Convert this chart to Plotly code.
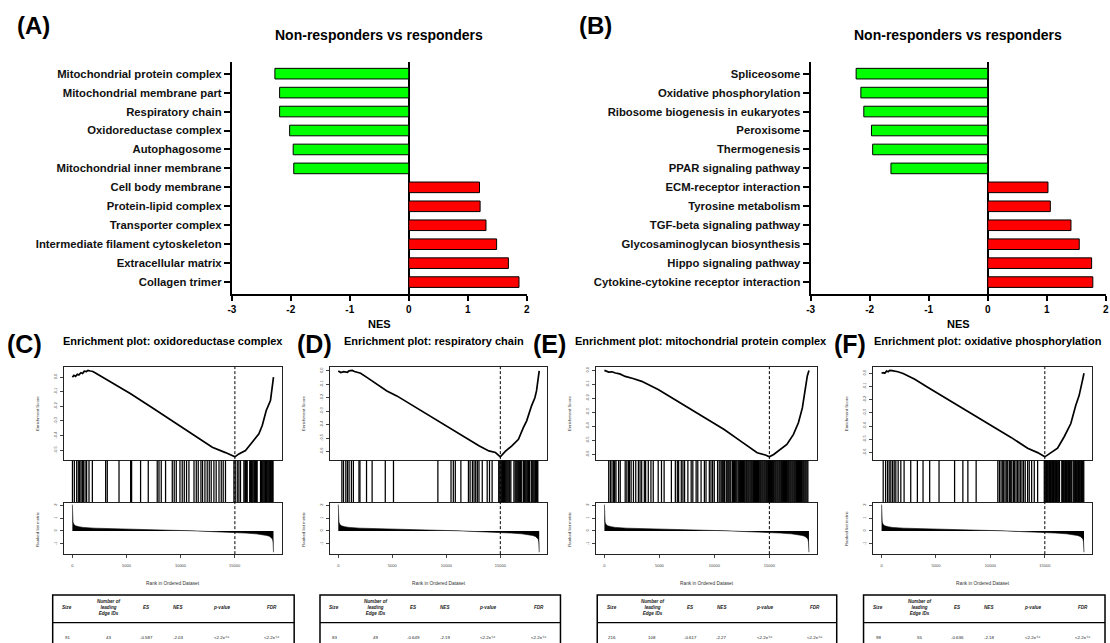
import plotly.graph_objects as go

W, H = 1110, 643
FONT = "Arial, Liberation Sans, Helvetica, sans-serif"


def fx(x):
    return x / W


def fy(y):
    return 1 - y / H


# ---------------- Panel A / B data ----------------
A_TERMS = ["Mitochondrial protein complex", "Mitochondrial membrane part", "Respiratory chain",
           "Oxidoreductase complex", "Autophagosome", "Mitochondrial inner membrane",
           "Cell body membrane", "Protein-lipid complex", "Transporter complex",
           "Intermediate filament cytoskeleton", "Extracellular matrix", "Collagen trimer"]
A_NES = [-2.27, -2.19, -2.19, -2.02, -1.96, -1.95, 1.20, 1.21, 1.31, 1.49, 1.69, 1.87]

B_TERMS = ["Spliceosome", "Oxidative phosphorylation", "Ribosome biogenesis in eukaryotes",
           "Peroxisome", "Thermogenesis", "PPAR signaling pathway", "ECM-receptor interaction",
           "Tyrosine metabolism", "TGF-beta signaling pathway", "Glycosaminoglycan biosynthesis",
           "Hippo signaling pathway", "Cytokine-cytokine receptor interaction"]
B_NES = [-2.23, -2.15, -2.10, -1.97, -1.95, -1.64, 1.02, 1.06, 1.41, 1.55, 1.76, 1.78]

NES_TICKS = [-3, -2, -1, 0, 1, 2]
NES_TICK_TEXT = ["-3", "-2", "-1", "0", "1", "2"]
BAR_TITLE = "Non-responders vs responders"

# ---------------- GSEA data ----------------
N_GENES = 18600
RANK_TICKS = [0, 5000, 10000, 15000]
RANK_TICK_TEXT = ["0", "5000", "10000", "15000"]

RANKED_X = [1, 20, 60, 150, 300, 600, 1000, 2000, 3000, 5000, 7000, 9000, 11000, 12500, 14000,
            15000, 16000, 17000, 17600, 18000, 18250, 18400, 18500, 18560, 18600]
RANKED_Y = [2.05, 1.1, 0.7, 0.5, 0.4, 0.33, 0.28, 0.22, 0.19, 0.14, 0.1, 0.06, 0.02, -0.02, -0.07,
            -0.11, -0.16, -0.22, -0.28, -0.35, -0.42, -0.5, -0.62, -0.85, -1.65]
RANKED_TICKS = [2, 1, 0, -1]
RANKED_TICK_TEXT = ["2", "1", "0", "-1"]

C_ES_RANK = [1, 150, 300, 460, 600, 800, 950, 1100, 1300, 1450, 1650, 1850, 2100, 2500, 3080, 3700,
             4315, 5390, 7390, 9240, 11090, 12940, 14160, 14600, 15030, 15400, 16010, 16630, 17250,
             17560, 17930, 18320, 18500, 18600]
C_ES = [0.0, 0.012, 0.005, 0.02, 0.015, 0.03, 0.025, 0.04, 0.038, 0.046, 0.042, 0.04, 0.03, 0.012,
        -0.016, -0.04, -0.068, -0.114, -0.21, -0.3, -0.388, -0.479, -0.516, -0.53, -0.545, -0.525,
        -0.502, -0.445, -0.388, -0.331, -0.228, -0.16, -0.06, 0.0]
C_HITS = [10, 185, 400, 550, 675, 800, 925, 1015, 1175, 1320, 1540, 1850, 3080, 3230, 4315, 5390,
          5480, 6310, 7020, 7850, 8010, 8220, 8620, 9240, 9420, 9610, 9950, 10160, 10350, 10560,
          10780, 11250, 11460, 11640, 11890, 12040, 12260, 12470, 12660, 12840, 13090, 13300, 13560,
          13770, 13950, 14160, 14940, 15060, 15250, 15400, 15550, 15860, 15960, 16010, 16090, 16170,
          16400, 16480, 16560, 16630, 16700, 16790, 16860, 16940, 17020, 17090, 17400, 17480, 17560,
          17640, 17720, 17800, 17860, 17940, 18020, 18100, 18170, 18250, 18320, 18380, 18440, 18500,
          18560]
C_ES_TICKS = [0.0, -0.1, -0.2, -0.3, -0.4, -0.5]

D_ES_RANK = [1, 240, 500, 850, 1000, 1300, 1500, 1760, 2070, 2680, 3590, 4500, 5420, 6940, 8460,
             9980, 11500, 13020, 13940, 14550, 15000, 15460, 16070, 16680, 17130, 17440, 17890,
             18200, 18350, 18500, 18600]
D_ES = [0.0, -0.012, -0.006, -0.01, 0.0, 0.004, -0.004, -0.012, -0.017, -0.05, -0.1, -0.149,
        -0.186, -0.26, -0.335, -0.41, -0.484, -0.558, -0.596, -0.608, -0.64, -0.6, -0.558, -0.509,
        -0.422, -0.372, -0.26, -0.2, -0.149, -0.074, 0.0]
D_HITS = [335, 487, 700, 852, 1004, 1217, 1400, 1917, 2008, 2617, 3134, 4351, 5112, 9220, 10437,
          10650, 10833, 11350, 12050, 12202, 12415, 12568, 12720, 12872, 13024, 13328, 13785, 13998,
          14241, 14850, 14950, 15050, 15130, 15215, 15300, 15380, 15459, 15540, 15620, 15702, 15790,
          15870, 15976, 16260, 16372, 16450, 16530, 16615, 16700, 16790, 16880, 16980, 17140, 17224,
          17300, 17380, 17467, 17540, 17620, 17711, 17870, 17954, 18030, 18110, 18198, 18270, 18350,
          18420, 18472]
D_ES_TICKS = [0.0, -0.1, -0.2, -0.3, -0.4, -0.5, -0.6]

E_ES_RANK = [1, 390, 700, 990, 1400, 1890, 2600, 3390, 4890, 6390, 7890, 9390, 10890, 12390, 13890,
             14640, 15000, 15390, 15990, 16590, 17190, 17640, 18000, 18240, 18450, 18600]
E_ES = [0.0, -0.012, -0.01, -0.019, -0.025, -0.043, -0.058, -0.078, -0.137, -0.209, -0.28, -0.351,
        -0.422, -0.505, -0.588, -0.604, -0.617, -0.6, -0.564, -0.528, -0.457, -0.374, -0.268,
        -0.149, -0.04, 0.0]
E_HITS = [390, 540, 690, 840, 930, 1050, 1290, 1440, 1890, 2040, 2190, 2280, 2430, 2640, 2850, 3090,
          3240, 3390, 3630, 3750, 3990, 4230, 4440, 4890, 5190, 5430, 6090, 6450, 6630, 6750, 6990,
          7140, 7290, 7590, 7890, 8040, 8340, 8490, 8790, 9090, 9240, 9540, 9690, 9840, 9990, 10290,
          10440, 10590, 10680, 10760, 10850, 10930, 11080, 11160, 11250, 11330, 11420, 11500, 11650,
          11730, 11820, 11900, 11980, 12070, 12210, 12300, 12380, 12470, 12550, 12640, 12720, 12800,
          12900, 12980, 13070, 13150, 13240, 13320, 13400, 13490, 13570, 13660, 13740, 13830, 13910,
          14000, 14080, 14170, 14250, 14340, 14420, 14510, 14590, 14680, 14760, 14850, 14930, 15020,
          15100, 15190, 15270, 15360, 15440, 15530, 15610, 15700, 15780, 15870, 15950, 16040, 16120,
          16210, 16290, 16380, 16460, 16550, 16630, 16720, 16800, 16890, 16970, 17060, 17140, 17230,
          17310, 17400, 17480, 17570, 17650, 17740, 17820, 17910, 17990, 18080, 18160, 18250, 18330,
          18420, 18500]
E_ES_TICKS = [0.0, -0.1, -0.2, -0.3, -0.4, -0.5, -0.6]

F_ES_RANK = [1, 150, 300, 460, 600, 760, 950, 1220, 1500, 1980, 3050, 4270, 5800, 7320, 8850, 10370,
             11900, 13420, 14340, 15000, 15560, 16170, 16780, 17390, 17840, 18150, 18450, 18600]
F_ES = [0.0, 0.005, 0.0, 0.017, 0.012, 0.022, 0.02, 0.017, 0.012, -0.002, -0.045, -0.107, -0.182,
        -0.256, -0.336, -0.41, -0.485, -0.567, -0.6, -0.632, -0.604, -0.567, -0.48, -0.38, -0.244,
        -0.169, -0.057, 0.0]
F_HITS = [150, 370, 550, 700, 850, 1010, 1160, 1310, 1525, 1770, 2070, 2680, 3290, 3810, 4420, 5280,
          6710, 7470, 7930, 8690, 10680, 10830, 10980, 11130, 11220, 11350, 11500, 11590, 11740,
          11830, 11960, 12110, 12200, 12350, 12480, 12620, 12750, 12900, 13050, 13200, 13420, 13570,
          13790, 14030, 14340, 14950, 15020, 15090, 15160, 15230, 15300, 15370, 15440, 15510, 15580,
          15650, 15720, 15790, 15860, 15930, 16000, 16070, 16140, 16210, 16280, 16350, 16560, 16630,
          16700, 16770, 16840, 16910, 16980, 17050, 17120, 17190, 17260, 17330, 17400, 17470, 17610,
          17680, 17750, 17820, 17890, 17960, 18030, 18100, 18170, 18240, 18310, 18380, 18450, 18520,
          18580]
F_ES_TICKS = [0.0, -0.1, -0.2, -0.3, -0.4, -0.5, -0.6]

GSEA_TITLES = ["Enrichment plot: oxidoreductase complex", "Enrichment plot: respiratory chain",
               "Enrichment plot: mitochondrial protein complex",
               "Enrichment plot: oxidative phosphorylation"]
PANEL_LABELS = ["(C)", "(D)", "(E)", "(F)"]

P_SMALL = "&lt;2.2e\u207b\u00b9\u2076"
TABLE_HEADER = ["Size", "Number of<br>leading<br>Edge IDs", "ES", "NES", "p-value", "FDR"]
C_TABLE = ["91", "43", "-0.587", "-2.03", P_SMALL, P_SMALL]
D_TABLE = ["83", "49", "-0.649", "-2.19", P_SMALL, P_SMALL]
E_TABLE = ["216", "108", "-0.617", "-2.27", P_SMALL, P_SMALL]
F_TABLE = ["98", "55", "-0.636", "-2.18", P_SMALL, P_SMALL]

# ---------------- build ----------------
fig = go.Figure()
layout = dict(width=W, height=H, autosize=False, margin=dict(l=0, r=0, t=0, b=0),
              paper_bgcolor="white", plot_bgcolor="white", showlegend=False,
              font=dict(family=FONT, color="black"))
annotations = []
shapes = []


def names(i):
    if i == 1:
        return "xaxis", "yaxis", "x", "y"
    return f"xaxis{i}", f"yaxis{i}", f"x{i}", f"y{i}"


def note(text, x, y, size, bold=False, angle=0, color="black", xanchor="center"):
    annotations.append(dict(text=text, x=fx(x), y=fy(y), xref="paper", yref="paper",
                            showarrow=False, xanchor=xanchor, yanchor="middle", textangle=angle,
                            font=dict(size=size, family=FONT, color=color,
                                      weight="bold" if bold else "normal")))


def bar_panel(i, terms, nes, x0, x1, title_cx, label, label_cx):
    xa, ya, xr, yr = names(i)
    colors = ["#00FF00" if v < 0 else "#FF0000" for v in nes]
    fig.add_trace(go.Bar(y=terms, x=nes, orientation="h", width=0.56,
                         marker=dict(color=colors, line=dict(color="black", width=1)),
                         xaxis=xr, yaxis=yr, hoverinfo="skip"))
    layout[xa] = dict(domain=[fx(x0), fx(x1)], range=[-3, 2], anchor=yr, tickvals=NES_TICKS,
                      ticktext=NES_TICK_TEXT, ticks="outside", ticklen=5, tickwidth=1.5,
                      tickcolor="black", showline=True, linewidth=2, linecolor="black",
                      zeroline=True, zerolinecolor="black", zerolinewidth=1.8, showgrid=False,
                      tickfont=dict(size=10, weight="bold", family=FONT, color="black"),
                      fixedrange=True)
    layout[ya] = dict(domain=[fy(293.3), fy(61)], anchor=xr, type="category",
                      categoryorder="array", categoryarray=terms, range=[11.62, -0.62],
                      ticks="outside", ticklen=6, tickwidth=1.5, tickcolor="black",
                      showline=True, linewidth=2, linecolor="black", showgrid=False,
                      zeroline=False, tickfont=dict(size=11.3, weight="bold", family=FONT,
                                                     color="#111"), fixedrange=True)
    note(BAR_TITLE, title_cx, 34, 14, bold=True)
    note("NES", (x0 + x1) / 2, 324, 11, bold=True)
    note(label, label_cx, 25, 24, bold=True)


bar_panel(1, A_TERMS, A_NES, 229.3, 526.0, 377, "(A)", 30)
bar_panel(2, B_TERMS, B_NES, 811.8, 1108.8, 960, "(B)", 595)

XR = [1 - 0.04 * (N_GENES - 1), N_GENES + 0.04 * (N_GENES - 1)]
TABLE_COL_FRAC = [0.06, 0.23, 0.39, 0.52, 0.70, 0.91]

ES_TOP, ES_BOT, BC_BOT, RK_BOT = 366.5, 460.0, 502.5, 554.0


def padded(lo, hi):
    p = 0.04 * (hi - lo)
    return [lo - p, hi + p]


def gsea_panel(p, l, r, es_rank, es, hits, es_ticks, tvals, tl, tr, title_cx, label_cx):
    i_es = 3 + 3 * p
    xa1, ya1, xr1, yr1 = names(i_es)
    xa2, ya2, xr2, yr2 = names(i_es + 1)
    xa3, ya3, xr3, yr3 = names(i_es + 2)
    dom = [fx(l), fx(r)]
    # ES curve
    fig.add_trace(go.Scatter(x=es_rank, y=es, mode="lines", line=dict(color="black", width=1.7),
                             xaxis=xr1, yaxis=yr1, hoverinfo="skip"))
    # barcode
    bx, by = [], []
    for h in hits:
        bx += [h, h, None]
        by += [0, 1, None]
    fig.add_trace(go.Scatter(x=bx, y=by, mode="lines", line=dict(color="black", width=1.25),
                             xaxis=xr2, yaxis=yr2, hoverinfo="skip"))
    # ranked list metric
    fig.add_trace(go.Scatter(x=RANKED_X, y=RANKED_Y, mode="lines", fill="tozeroy",
                             fillcolor="black", line=dict(color="black", width=0.6),
                             xaxis=xr3, yaxis=yr3, hoverinfo="skip"))
    box = dict(showline=True, mirror=True, linecolor="#222", linewidth=1, showgrid=False,
               zeroline=False, fixedrange=True)
    small = dict(size=4, family=FONT, color="#444")
    layout[xa1] = dict(domain=dom, range=XR, anchor=yr1, ticks="", showticklabels=False, **box)
    layout[ya1] = dict(domain=[fy(ES_BOT), fy(ES_TOP)], range=padded(min(es), max(es)),
                       anchor=xr1, tickvals=es_ticks, ticktext=[f"{t:.1f}" for t in es_ticks],
                       ticks="outside", ticklen=3, tickwidth=0.6, tickcolor="#444",
                       tickangle=-90, tickfont=small, ticklabelstandoff=2, **box)
    layout[xa2] = dict(domain=dom, range=XR, anchor=yr2, visible=False, fixedrange=True)
    layout[ya2] = dict(domain=[fy(BC_BOT), fy(ES_BOT)], range=[0, 1], anchor=xr2, visible=False,
                       fixedrange=True)
    layout[xa3] = dict(domain=dom, range=XR, anchor=yr3, tickvals=RANK_TICKS,
                       ticktext=RANK_TICK_TEXT, ticks="outside", ticklen=3, tickwidth=0.6,
                       tickcolor="#444", tickfont=small, ticklabelstandoff=4, **box)
    layout[ya3] = dict(domain=[fy(RK_BOT), fy(BC_BOT)], range=padded(min(RANKED_Y), max(RANKED_Y)),
                       anchor=xr3, tickvals=RANKED_TICKS, ticktext=RANKED_TICK_TEXT,
                       ticks="outside", ticklen=3, tickwidth=0.6, tickcolor="#444",
                       tickangle=-90, tickfont=small, ticklabelstandoff=2, **box)
    # dashed line at the enrichment minimum
    x_min = es_rank[es.index(min(es))]
    shapes.append(dict(type="line", xref=xr1, yref="paper", x0=x_min, x1=x_min,
                       y0=fy(RK_BOT), y1=fy(ES_TOP),
                       line=dict(color="black", width=1, dash="3px,2px"), layer="above"))
    # texts
    note("Enrichment Score", l - 27, (ES_TOP + ES_BOT) / 2, 4.4, angle=-90, color="#333")
    note("Ranked list metric", l - 27, (BC_BOT + RK_BOT) / 2, 4.4, angle=-90, color="#333")
    note("Rank in Ordered Dataset", (l + r) / 2, 583, 4.8, color="#333")
    note(GSEA_TITLES[p], title_cx, 341, 11, bold=True)
    note(PANEL_LABELS[p], label_cx, 344, 25, bold=True)
    # table
    shapes.append(dict(type="rect", xref="paper", yref="paper", x0=fx(tl), x1=fx(tr),
                       y0=fy(648), y1=fy(595), line=dict(color="black", width=1.5)))
    shapes.append(dict(type="line", xref="paper", yref="paper", x0=fx(tl), x1=fx(tr),
                       y0=fy(622.5), y1=fy(622.5), line=dict(color="black", width=1.2)))
    for k, (hd, val) in enumerate(zip(TABLE_HEADER, tvals)):
        cx = tl + TABLE_COL_FRAC[k] * (tr - tl)
        note(f"<b><i>{hd}</i></b>", cx, 607, 4.6, color="#222")
        note(val, cx, 637, 4.4, color="#222")


gsea_panel(0, 60.7, 279.3, C_ES_RANK, C_ES, C_HITS, C_ES_TICKS, C_TABLE, 49, 292, 170, 21)
gsea_panel(1, 328.3, 546.7, D_ES_RANK, D_ES, D_HITS, D_ES_TICKS, D_TABLE, 318, 560, 433, 312)
gsea_panel(2, 596.0, 818.3, E_ES_RANK, E_ES, E_HITS, E_ES_TICKS, E_TABLE, 597, 838, 701, 549)
gsea_panel(3, 875.0, 1095.0, F_ES_RANK, F_ES, F_HITS, F_ES_TICKS, F_TABLE, 865, 1108, 990, 851)

layout["annotations"] = annotations
layout["shapes"] = shapes
fig.update_layout(**layout)

fig.write_html("out.html", config={"displayModeBar": False},
               post_script="document.body.style.margin='0px';")
